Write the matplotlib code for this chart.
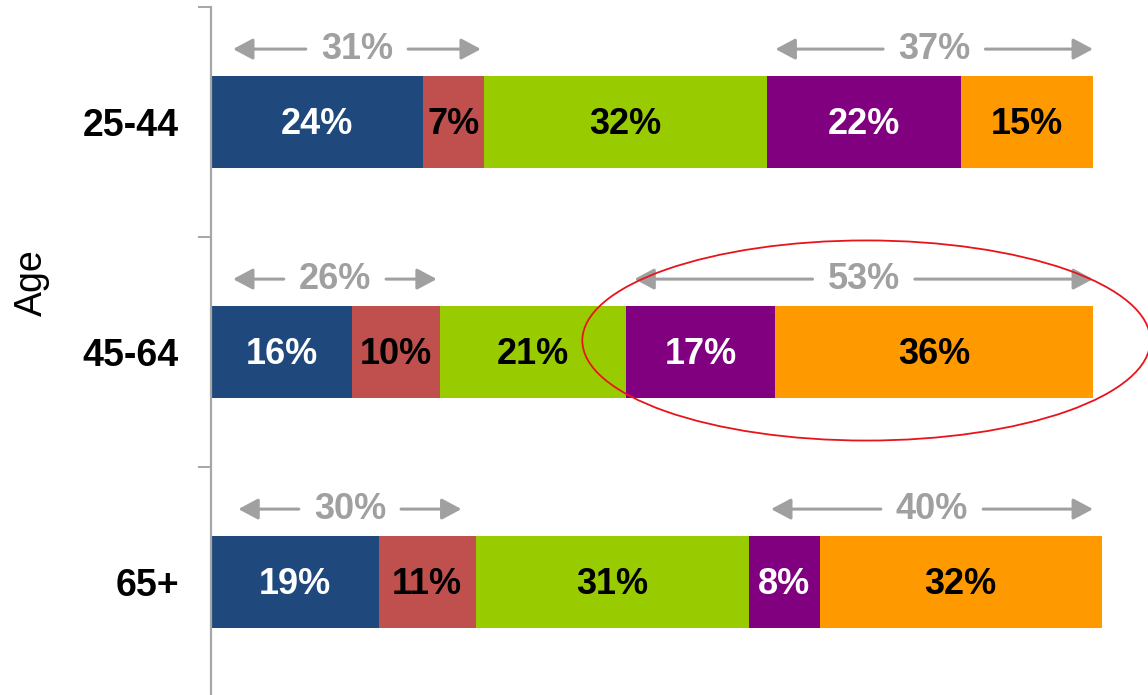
import matplotlib.pyplot as plt
from matplotlib.patches import Ellipse, FancyArrowPatch

AGE_GROUPS = ["25-44", "45-64", "65+"]
SEGMENT_COLORS = ["#1F497D", "#C0504D", "#99CC00", "#800080", "#FF9900"]
TEXT_COLORS = ["white", "black", "black", "white", "black"]
SHARES = [
    [24, 7, 32, 22, 15],
    [16, 10, 21, 17, 36],
    [19, 11, 31, 8, 32],
]
LEFT_TOTALS = [31, 26, 30]
RIGHT_TOTALS = [37, 53, 40]

FONT = "Liberation Sans"
GRAY = "#A0A0A0"
BAR_HEIGHT = 0.4


def draw_bracket(ax, x0, x1, y, label, gap=5.8):
    mid = (x0 + x1) / 2
    style = dict(arrowstyle="-|>,head_length=0.75,head_width=0.4", color=GRAY,
                 lw=2.2, shrinkA=0, shrinkB=0, mutation_scale=16)
    ax.add_patch(FancyArrowPatch((mid - gap, y), (x0, y), **style))
    ax.add_patch(FancyArrowPatch((mid + gap, y), (x1, y), **style))
    ax.text(mid, y, f"{label}%", ha="center", va="center", fontsize=26,
            fontweight="bold", color=GRAY, family=FONT)


def main() -> None:
    fig = plt.figure(figsize=(11.48, 6.95), dpi=100)
    ax = fig.add_axes([211 / 1148, -2 / 695, 937 / 1148, 690 / 695])

    for row, shares in enumerate(SHARES):
        left = 0
        for seg, value in enumerate(shares):
            ax.barh(row, value, left=left, height=BAR_HEIGHT,
                    color=SEGMENT_COLORS[seg], edgecolor="none")
            ax.text(left + value / 2, row + 0.01, f"{value}%", ha="center", va="center",
                    fontsize=26, fontweight="bold", color=TEXT_COLORS[seg], family=FONT)
            left += value

        # Brackets over the first two and last two segments
        y_arrow = row - BAR_HEIGHT / 2 - 0.117
        left_end = shares[0] + shares[1]
        right_start = sum(shares[:3])
        draw_bracket(ax, 2.5 + 0.6 * (row == 2), left_end - 0.4 - 1.2 * (row == 2), y_arrow,
                     LEFT_TOTALS[row])
        draw_bracket(ax, right_start + 1 + 1.5 * (row == 2), min(sum(shares), 100), y_arrow,
                     RIGHT_TOTALS[row])

    # Highlight for the 45-64 group
    ax.add_patch(Ellipse((74.3, 0.95), 64.4, 0.87, fill=False, edgecolor="#E8141C", lw=1.3))

    ax.set_xlim(0, 937 / 8.82)
    ax.set_ylim(2.5, -0.5)

    for side in ["top", "right", "bottom"]:
        ax.spines[side].set_visible(False)
    ax.spines["left"].set_color("#A6A6A6")
    ax.spines["left"].set_linewidth(1.6)
    ax.set_xticks([])

    ax.set_yticks([-0.5, 0.5, 1.5, 2.5])
    ax.set_yticklabels([])
    ax.tick_params(axis="y", which="major", length=9.5, width=1.4, color="#A6A6A6")
    ax.set_yticks([0, 1, 2], minor=True)
    ax.set_yticklabels(AGE_GROUPS, minor=True, fontsize=27, fontweight="bold", family=FONT)
    ax.tick_params(axis="y", which="minor", length=0, pad=23)

    fig.text(32 / 1148, 1 - 283 / 695, "Age", rotation=90, ha="center", va="center",
             fontsize=27, family="Liberation Sans")

    fig.savefig("out.png", dpi=100)


if __name__ == "__main__":
    main()
